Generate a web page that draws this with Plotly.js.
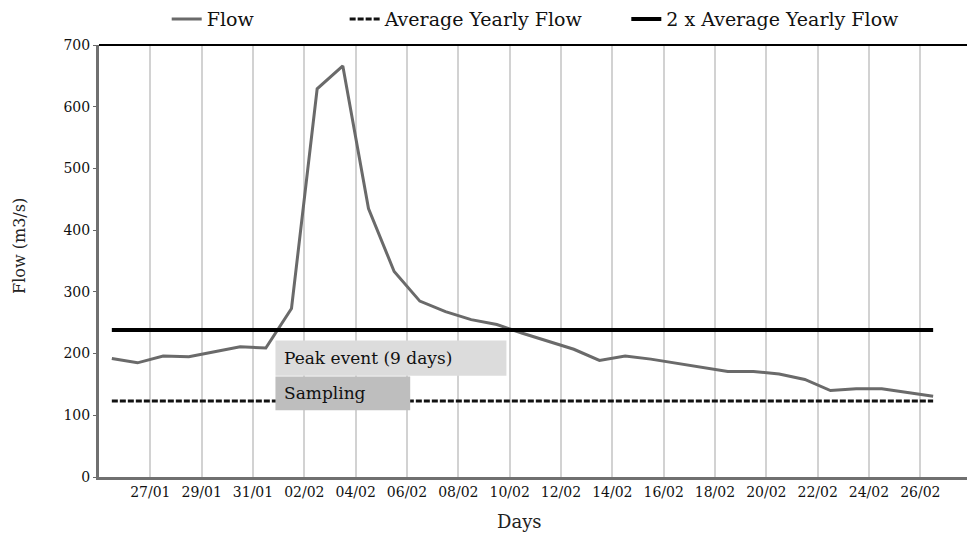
<!DOCTYPE html>
<html>
<head>
<meta charset="utf-8">
<script src="https://cdn.plot.ly/plotly-3.0.1.min.js"></script>
<style>
  html, body { margin: 0; padding: 0; background: #fff; }
  #chart { width: 967px; height: 541px; }
</style>
</head>
<body>
<div id="chart"></div>
<script>
// ---- data ----
const days = [
  '2003-01-25 12:00','2003-01-26 12:00','2003-01-27 12:00','2003-01-28 12:00','2003-01-29 12:00',
  '2003-01-30 12:00','2003-01-31 12:00','2003-02-01 12:00','2003-02-02 12:00','2003-02-03 12:00',
  '2003-02-04 12:00','2003-02-05 12:00','2003-02-06 12:00','2003-02-07 12:00','2003-02-08 12:00',
  '2003-02-09 12:00','2003-02-10 12:00','2003-02-11 12:00','2003-02-12 12:00','2003-02-13 12:00',
  '2003-02-14 12:00','2003-02-15 12:00','2003-02-16 12:00','2003-02-17 12:00','2003-02-18 12:00',
  '2003-02-19 12:00','2003-02-20 12:00','2003-02-21 12:00','2003-02-22 12:00','2003-02-23 12:00',
  '2003-02-24 12:00','2003-02-25 12:00','2003-02-26 12:00'
];
const flow = [
  192, 185, 196, 195, 203, 211, 209, 273, 629, 666,
  435, 333, 285, 268, 255, 247, 233, 220, 207, 189,
  196, 191, 184, 177, 171, 171, 167, 158, 140, 143,
  143, 137, 131
];
const averageYearlyFlow = 123;
const twiceAverageYearlyFlow = 238;

const tickDates = ['2003-01-27','2003-01-29','2003-01-31','2003-02-02','2003-02-04','2003-02-06',
  '2003-02-08','2003-02-10','2003-02-12','2003-02-14','2003-02-16','2003-02-18','2003-02-20',
  '2003-02-22','2003-02-24','2003-02-26'];
const tickLabels = ['27/01','29/01','31/01','02/02','04/02','06/02','08/02','10/02','12/02',
  '14/02','16/02','18/02','20/02','22/02','24/02','26/02'];

const peakEvent = { label: 'Peak event (9 days)', start: '2003-01-31 21:00', end: '2003-02-09 21:00', low: 164, high: 221 };
const sampling  = { label: 'Sampling', start: '2003-01-31 21:00', end: '2003-02-06 03:00', low: 108, high: 163 };

const xTitle = 'Days';
const yTitle = 'Flow (m3/s)';

// ---- chart ----
const serif = 'DejaVu Serif, Liberation Serif, serif';
const first = days[0], last = days[days.length - 1];

const traces = [
  {
    x: days, y: flow, type: 'scatter', mode: 'lines', name: 'Flow',
    line: { color: '#6a6a6a', width: 3 }, legend: 'legend'
  },
  {
    x: [first, last], y: [averageYearlyFlow, averageYearlyFlow], type: 'scatter', mode: 'lines',
    name: 'Average Yearly Flow', line: { color: '#111111', width: 3, dash: '6px,2px' }, legend: 'legend2'
  },
  {
    x: [first, last], y: [twiceAverageYearlyFlow, twiceAverageYearlyFlow], type: 'scatter', mode: 'lines',
    name: '2 x Average Yearly Flow', line: { color: '#000000', width: 4 }, legend: 'legend3'
  }
];

const legendBase = {
  orientation: 'h', yanchor: 'middle', xanchor: 'left', y: 1.06,
  bgcolor: 'rgba(0,0,0,0)', font: { family: serif, size: 19, color: '#111' }
};

function box(b, color) {
  return {
    type: 'rect', xref: 'x', yref: 'y', x0: b.start, x1: b.end, y0: b.low, y1: b.high,
    fillcolor: color, line: { width: 0 }, layer: 'above'
  };
}
function boxLabel(b) {
  return {
    xref: 'x', yref: 'y', x: b.start, y: (b.low + b.high) / 2, xanchor: 'left', yanchor: 'middle',
    xshift: 7, text: b.label, showarrow: false,
    font: { family: serif, size: 17, color: '#111' }
  };
}

const layout = {
  width: 967, height: 541,
  margin: { l: 99, r: 0, t: 43, b: 64 },
  paper_bgcolor: '#fff', plot_bgcolor: '#fff',
  showlegend: true,
  legend:  Object.assign({}, legendBase, { x: 0.078 }),
  legend2: Object.assign({}, legendBase, { x: 0.283 }),
  legend3: Object.assign({}, legendBase, { x: 0.6075 }),
  xaxis: {
    type: 'date', range: ['2003-01-25 00:00', '2003-02-27 19:40'],
    tickvals: tickDates, ticktext: tickLabels,
    showgrid: true, gridcolor: '#d2d2d2', gridwidth: 2,
    showline: true, linecolor: '#707070', linewidth: 3, zeroline: false, ticks: '',
    tickfont: { family: serif, size: 14, color: '#111' }
  },
  yaxis: {
    range: [0, 700], dtick: 100, tick0: 0,
    showgrid: false, zeroline: false,
    showline: true, linecolor: '#707070', linewidth: 3,
    ticks: 'outside', ticklen: 3, tickcolor: '#666', tickwidth: 1,
    tickfont: { family: serif, size: 14, color: '#111' }
  },
  shapes: [
    { type: 'line', xref: 'paper', yref: 'paper', x0: 0, x1: 1, y0: 1, y1: 1,
      line: { color: '#000', width: 2 } },
    box(peakEvent, '#dcdcdc'),
    box(sampling, '#bebebe')
  ],
  annotations: [
    boxLabel(peakEvent),
    boxLabel(sampling),
    { xref: 'paper', yref: 'paper', x: -0.091, y: 0.535, xanchor: 'center', yanchor: 'middle',
      textangle: -90, text: yTitle, showarrow: false,
      font: { family: serif, size: 16, color: '#222' } },
    { xref: 'paper', yref: 'paper', x: 0.484, y: -0.104, xanchor: 'center', yanchor: 'middle',
      text: xTitle, showarrow: false,
      font: { family: serif, size: 18, color: '#222' } }
  ]
};

Plotly.newPlot('chart', traces, layout, { displayModeBar: false, staticPlot: true });
</script>
</body>
</html>
